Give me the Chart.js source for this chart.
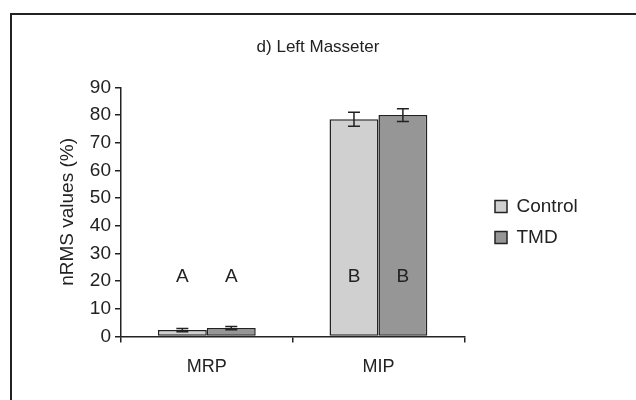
<!DOCTYPE html>
<html>
<head>
<meta charset="utf-8">
<script src="https://cdn.jsdelivr.net/npm/chart.js@4"></script>
<style>
  body { margin: 0; background: #fff; }
  #wrap { position: relative; width: 636px; height: 400px; overflow: hidden; }
  #frame { position: absolute; left: 10px; top: 13px; width: 700px; height: 500px; border: 2px solid #222; }
  canvas { position: absolute; left: 0; top: 0; }
</style>
</head>
<body>
<div id="wrap">
  <div id="frame"></div>
  <canvas id="chart" width="636" height="400"></canvas>
</div>
<script>
const categories = ["MRP", "MIP"];
const seriesNames = ["Control", "TMD"];
const controlValues = [2.3, 78.5];
const tmdValues = [3.0, 80.0];
const controlErrors = [0.6, 2.5];
const tmdErrors = [0.6, 2.3];
const controlLetters = ["A", "B"];
const tmdLetters = ["A", "B"];
const letterLevel = 21.5;
const yTicks = [0, 10, 20, 30, 40, 50, 60, 70, 80, 90];

const ink = "#222";
const font = "'Liberation Sans', Arial, sans-serif";

const errorBars = {
    id: "errorBars",
    afterDatasetsDraw(chart) {
        const ctx = chart.ctx;
        const y = chart.scales.y;
        const errs = [controlErrors, tmdErrors];
        const letters = [controlLetters, tmdLetters];
        ctx.save();
        chart.data.datasets.forEach((ds, i) => {
            chart.getDatasetMeta(i).data.forEach((bar, j) => {
                const v = ds.data[j], e = errs[i][j];
                const top = y.getPixelForValue(v + e), bot = y.getPixelForValue(v - e);
                ctx.strokeStyle = ink;
                ctx.lineWidth = 1.5;
                ctx.beginPath();
                ctx.moveTo(bar.x, top); ctx.lineTo(bar.x, bot);
                ctx.moveTo(bar.x - 6, top); ctx.lineTo(bar.x + 6, top);
                ctx.moveTo(bar.x - 6, bot); ctx.lineTo(bar.x + 6, bot);
                ctx.stroke();
                ctx.fillStyle = ink;
                ctx.font = "19px " + font;
                ctx.textAlign = "center";
                ctx.textBaseline = "middle";
                ctx.fillText(letters[i][j], bar.x, y.getPixelForValue(letterLevel));
            });
        });
        ctx.restore();
    }
};

// nudge legend and title to where the original has them
const boxShift = {
    id: "boxShift",
    afterLayout(chart) {
        const lg = chart.legend;
        const dx = 493 - (lg.left + 10);
        const dy = 222 - (lg.top + lg.bottom) / 2;
        lg.left += dx; lg.right += dx;
        lg.top += dy; lg.bottom += dy;
        const t = chart.titleBlock;
        const tx = 318 - (t.left + t.right) / 2;
        t.left += tx; t.right += tx;
    }
};

new Chart(document.getElementById("chart"), {
    type: "bar",
    data: {
        labels: categories,
        datasets: [{
            label: seriesNames[0],
            data: controlValues,
            backgroundColor: "#d0d0d0",
            borderColor: ink,
            borderWidth: 1.5,
            borderSkipped: false,
            categoryPercentage: 0.57,
            barPercentage: 1
        }, {
            label: seriesNames[1],
            data: tmdValues,
            backgroundColor: "#969696",
            borderColor: ink,
            borderWidth: 1.5,
            borderSkipped: false,
            categoryPercentage: 0.57,
            barPercentage: 1
        }]
    },
    options: {
        responsive: false,
        animation: false,
        layout: { padding: { left: 52, right: 67, top: 0, bottom: 8 } },
        plugins: {
            title: {
                display: true,
                text: "d) Left Masseter",
                color: ink,
                font: { family: font, size: 17, weight: "normal" },
                padding: { top: 37, bottom: 30 }
            },
            legend: {
                position: "right",
                labels: {
                    color: ink,
                    font: { family: font, size: 19 },
                    boxWidth: 12,
                    boxHeight: 12,
                    padding: 12
                }
            },
            tooltip: { enabled: false }
        },
        scales: {
            x: {
                grid: { display: true, drawOnChartArea: false, offset: true, color: ink, tickLength: 6, lineWidth: 1.5 },
                border: { color: ink, width: 1.5 },
                ticks: { color: ink, font: { family: font, size: 18 }, padding: 14 }
            },
            y: {
                min: 0,
                max: 90,
                afterBuildTicks(scale) { scale.ticks = yTicks.map(v => ({ value: v })); },
                afterFit(scale) { scale.width = 69; },
                grid: { drawOnChartArea: false, color: ink, tickLength: 6, lineWidth: 1.5 },
                border: { color: ink, width: 1.5 },
                ticks: { color: ink, font: { family: font, size: 19 }, padding: 4 },
                title: {
                    display: true,
                    text: "nRMS values (%)",
                    color: ink,
                    font: { family: font, size: 19 }
                }
            }
        }
    },
    plugins: [errorBars, boxShift]
});
</script>
</body>
</html>
